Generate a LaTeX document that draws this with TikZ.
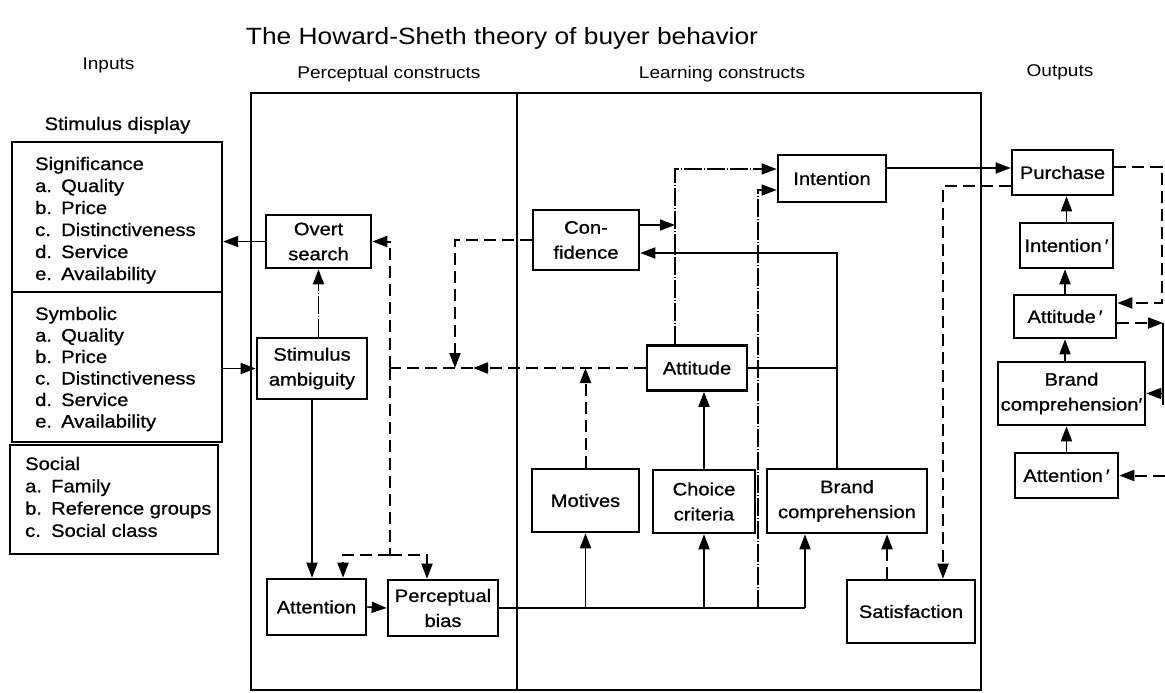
\documentclass[tikz,border=0pt]{standalone}
\usepackage{fontspec}
\setmainfont[FakeStretch=1.12]{Liberation Sans}
\newfontfamily\heavyfont[FakeStretch=1.12,FakeBold=0.8]{Liberation Sans}
\usetikzlibrary{arrows.meta}
\newcommand{\boxfont}{\heavyfont\fontsize{18}{25}\selectfont}
\newcommand{\itemfont}{\heavyfont\fontsize{18}{22}\selectfont}
\newcommand{\hdrfont}{\fontsize{17}{20}\selectfont}
\newcommand{\headfont}{\fontsize{23.5}{28}\selectfont}
\newcommand{\inlist}[2]{\makebox[26pt][l]{#1}#2}
\begin{document}
\begin{tikzpicture}[x=1pt, y=-1pt,
  >={Triangle[length=15pt,width=11pt]},
  frame/.style={draw, line width=2.4pt, inner sep=0pt},
  blk/.style={draw, line width=2.6pt, inner sep=0pt, align=center, font=\boxfont},
  conn/.style={line width=1.6pt},
  dsh/.style={line width=2pt, dash pattern=on 12pt off 6pt},
  ddot/.style={line width=1.2pt, dash pattern=on 18pt off 2pt on 1pt off 2pt},
  hdr/.style={font=\hdrfont, inner sep=0pt, anchor=base},
  itemtxt/.style={anchor=base west, inner sep=0pt, font=\itemfont},
]
\useasboundingbox (0,0) rectangle (1165,693);

% headings
\node[font=\headfont, inner sep=0pt, anchor=base] (title) at (502,45) {The Howard-Sheth theory of buyer behavior};
\node[hdr] (hin)  at (108.5,70) {Inputs};
\node[hdr] (hper) at (389,78) {Perceptual constructs};
\node[hdr] (hlrn) at (722,78) {Learning constructs};
\node[hdr] (hout) at (1060,77) {Outputs};
\node[itemtxt, anchor=base] (sdisp) at (117.5,130) {Stimulus display};

% construct frames
\node[frame, minimum width=266pt, minimum height=597pt] (perc) at (384,391.5) {};
\node[frame, minimum width=464pt, minimum height=597pt] (learn) at (749,391.5) {};

% stimulus display boxes
\node[frame, minimum width=210pt, minimum height=150pt] (sig) at (117,217) {};
\node[frame, minimum width=210pt, minimum height=150pt] (sym) at (117,367) {};
\node[frame, minimum width=208pt, minimum height=109pt] (soc) at (114,499.5) {};
\foreach \t [count=\i from 0] in {Significance, \inlist{a.}{Quality}, \inlist{b.}{Price},
    \inlist{c.}{Distinctiveness}, \inlist{d.}{Service}, \inlist{e.}{Availability}}
  \node[itemtxt] (sigt\i) at (35,170+22*\i) {\t};
\foreach \t [count=\i from 0] in {Symbolic, \inlist{a.}{Quality}, \inlist{b.}{Price},
    \inlist{c.}{Distinctiveness}, \inlist{d.}{Service}, \inlist{e.}{Availability}}
  \node[itemtxt] (symt\i) at (35,320+21.5*\i) {\t};
\foreach \t [count=\i from 0] in {Social, \inlist{a.}{Family}, \inlist{b.}{Reference groups},
    \inlist{c.}{Social class}}
  \node[itemtxt] (soct\i) at (25,470+22.3*\i) {\t};

% perceptual constructs
\node[blk, minimum width=105pt, minimum height=53pt] (overt) at (318.5,241.5) {Overt\\search};
\node[blk, minimum width=110pt, minimum height=61pt] (stim) at (312,368.5) {Stimulus\\ambiguity};
\node[blk, minimum width=99pt, minimum height=56pt] (att) at (316.5,607) {Attention};
\node[blk, minimum width=110pt, minimum height=56pt] (pbias) at (443,608) {Perceptual\\bias};

% learning constructs
\node[blk, minimum width=106pt, minimum height=60pt] (conf) at (586,240) {Con-\\fidence};
\node[blk, minimum width=100pt, minimum height=45pt] (attitude) at (697,368) {Attitude};
\node[blk, minimum width=108pt, minimum height=47pt] (intention) at (832,178.5) {Intention};
\node[blk, minimum width=107pt, minimum height=63pt] (motives) at (585.5,500.5) {Motives};
\node[blk, minimum width=102pt, minimum height=63pt] (choice) at (704,501.5) {Choice\\criteria};
\node[blk, minimum width=160pt, minimum height=64pt] (brand) at (847,501) {Brand\\comprehension};
\node[blk, minimum width=128pt, minimum height=63pt] (sat) at (911,611.5) {Satisfaction};

% outputs
\node[blk, minimum width=101pt, minimum height=45pt] (purchase) at (1062.5,172.5) {Purchase};
\node[blk, minimum width=93pt, minimum height=45pt] (intp) at (1066.5,245.5) {Intention\kern3pt′};
\node[blk, minimum width=102pt, minimum height=43pt] (attp) at (1065,316.5) {Attitude\kern3pt′};
\node[blk, minimum width=147pt, minimum height=63pt] (bcp) at (1071.5,393.5) {Brand\\comprehension′};
\node[blk, minimum width=103pt, minimum height=45pt] (attnp) at (1066.5,475.5) {Attention\kern3pt′};

% junction points
\coordinate (fb) at (390,368);
\coordinate (ml) at (473,368);
\coordinate (fbd) at (390,555);
\coordinate (cf) at (455,368);
\coordinate (b1) at (motives.south |- pbias.east);
\coordinate (b2) at (choice.south |- pbias.east);
\coordinate (b3) at (758,608);
\coordinate (b4) at ([xshift=-42pt]brand.south |- pbias.east);
\coordinate (bu) at ([xshift=-10pt]brand.north);
\coordinate (ct) at (675,225);
\coordinate (r1) at (1162,167);
\coordinate (r2) at (1162,303);
\coordinate (r3) at (1163,323);
\coordinate (r4) at (1163,405);
\coordinate (e2) at (1165,475.5);

% perceptual flows
\draw[conn,->] (overt.west) -- (overt.west -| sig.east);
\draw[conn,->] (sym.east |- stim.west) -- (stim.west);
\draw[ddot,->] (stim.north -| overt) -- (overt.south);
\draw[conn,->] (stim.south) -- (stim.south |- att.north);
\draw[conn,->] (att.east) -- (pbias.west);

% information bus from perceptual bias
\draw[conn] (pbias.east) -- (b4);
\draw[conn,->] (b1) -- (motives.south);
\draw[conn,->] (b2) -- (choice.south);
\draw[conn,->] (b4) -- (b4 |- brand.south);
\draw[ddot,->] (b3) |- ([yshift=-11.5pt]intention.west);

% learning flows
\draw[conn,->] (choice.north) -- (choice.north |- attitude.south);
\draw[conn,->] ([yshift=15pt]conf.east) -- (ct);
\draw[ddot,->] ([xshift=-22pt]attitude.north) |- ([yshift=9.5pt]intention.west);
\draw[conn,->] (bu) |- ([yshift=-13pt]conf.east);
\draw[conn] (attitude.east) -- (attitude.east -| bu);
\draw[conn,->] ([yshift=10.5pt]intention.east) -- ([yshift=10.5pt]intention.east -| purchase.west);

% feedback
\draw[dsh,->] (attitude.west) -- (ml);
\draw[dsh] (ml) -- (fb);
\draw[dsh,->] (conf.west) -| (cf);
\draw[dsh,->] (motives.north) -- (motives.north |- attitude.west);
\draw[dsh,->] (fb) |- (overt.east);
\draw[dsh] (fb) -- (fbd);
\draw[dsh,->] (fbd) -| ([xshift=26.5pt]att.north);
\draw[dsh,->] (fbd) -| ([xshift=-16pt]pbias.north);
\draw[dsh,->] ([xshift=-24pt]sat.north) -- ([xshift=-24pt]sat.north |- brand.south);
\draw[dsh,->] ([yshift=-13.5pt]purchase.west) -| ([xshift=32pt]sat.north);

% outputs
\draw[conn,->] (attnp.north) -- (attnp.north |- bcp.south);
\draw[conn,->] (bcp.north -| attp) -- (attp.south);
\draw[conn,->] (attp.north) -- (attp.north |- intp.south);
\draw[conn,->] (intp.north) -- (intp.north |- purchase.south);
\draw[dsh,->] ([yshift=5.5pt]purchase.east) -- (r1) -- (r2) -- (r2 -| attp.east);
\draw[dsh,->] ([yshift=-6.5pt]attp.east) -- (r3);
\draw[conn] (r3) -- (r4);
\draw[conn,->] (bcp.east -| r3) -- (bcp.east);
\draw[dsh,->] (e2) -- (attnp.east);
\end{tikzpicture}
\end{document}
